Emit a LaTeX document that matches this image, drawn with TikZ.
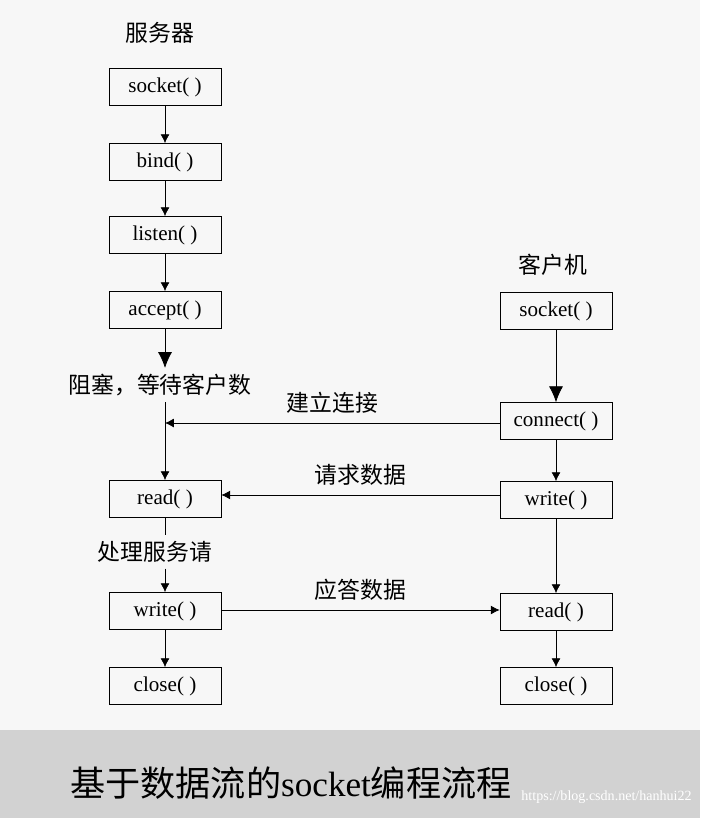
\documentclass[tikz,border=0pt]{standalone}
\usepackage{fontspec}
\setmainfont{Liberation Serif}
\newfontfamily\cjk{Noto Sans CJK SC}
\usetikzlibrary{arrows.meta}
\begin{document}
\begin{tikzpicture}[x=0.02cm,y=-0.02cm,
    box/.style={draw,minimum width=2.24cm,minimum height=0.74cm,inner sep=0pt,font=\fontsize{12}{14}\selectfont},
    lbl/.style={font=\cjk\fontsize{13}{15}\selectfont},
    flow/.style={-{Latex[length=5pt,width=5pt]},black}]
    % Background
    \fill[gray!6] (0,0) rectangle (700,818);
    \fill[gray!35] (0,730) rectangle (700,818);
    \useasboundingbox (0,0) rectangle (700,818);

    % Server
    \node[lbl] (srv) at (160,33) {服务器};
    \node[box] (ssock) at (165,87) {socket( )};
    \node[box] (sbind) at (165,162) {bind( )};
    \node[box] (slisten) at (165,235) {listen( )};
    \node[box] (saccept) at (165,310) {accept( )};
    \node[lbl] (wait) at (160,385) {阻塞，等待客户数};
    \node[box] (sread) at (165,499) {read( )};
    \node[lbl] (proc) at (155,552) {处理服务请};
    \node[box] (swrite) at (165,611) {write( )};
    \node[box] (sclose) at (165,686) {close( )};

    % Client
    \node[lbl] (cli) at (553,265) {客户机};
    \node[box] (csock) at (556,311) {socket( )};
    \node[box] (cconn) at (556,421) {connect( )};
    \node[box] (cwrite) at (556,500) {write( )};
    \node[box] (cread) at (556,612) {read( )};
    \node[box] (cclose) at (556,686) {close( )};

    % Server flow
    \draw[flow] (ssock) -- (sbind);
    \draw[flow] (sbind) -- (slisten);
    \draw[flow] (slisten) -- (saccept);
    \draw[-{Latex[length=9pt,width=8pt]}] (saccept) -- (saccept.south |- wait.north);
    \draw[flow] (sread.north |- wait.south) -- (sread);
    \draw (sread) -- (sread.south |- proc.north);
    \draw[flow] (swrite.north |- proc.south) -- (swrite);
    \draw[flow] (swrite) -- (sclose);

    % Client flow
    \draw[-{Latex[length=9pt,width=8pt]}] (csock) -- (cconn);
    \draw[flow] (cconn) -- (cwrite);
    \draw[flow] (cwrite) -- (cread);
    \draw[flow] (cread) -- (cclose);

    % Messages
    \coordinate (conn) at (165,423);
    \draw[flow] (cconn.west |- conn) -- (conn) node[lbl,midway,above=2pt] {建立连接};
    \draw[flow] (cwrite.west |- 0,495) -- (sread.east |- 0,495) node[lbl,midway,above=2pt] {请求数据};
    \draw[flow] (swrite.east |- 0,610) -- (cread.west |- 0,610) node[lbl,midway,above=2pt] {应答数据};

    % Caption
    \node[font=\fontsize{20}{24}\selectfont,anchor=west,inner sep=0pt] (title) at (70,783) {\cjk 基于数据流的\rmfamily socket\cjk 编程流程};
    \node[font=\fontsize{8}{10}\selectfont,text=white,anchor=east,inner sep=0pt] (mark) at (692,797) {https://blog.csdn.net/hanhui22};
\end{tikzpicture}
\end{document}
